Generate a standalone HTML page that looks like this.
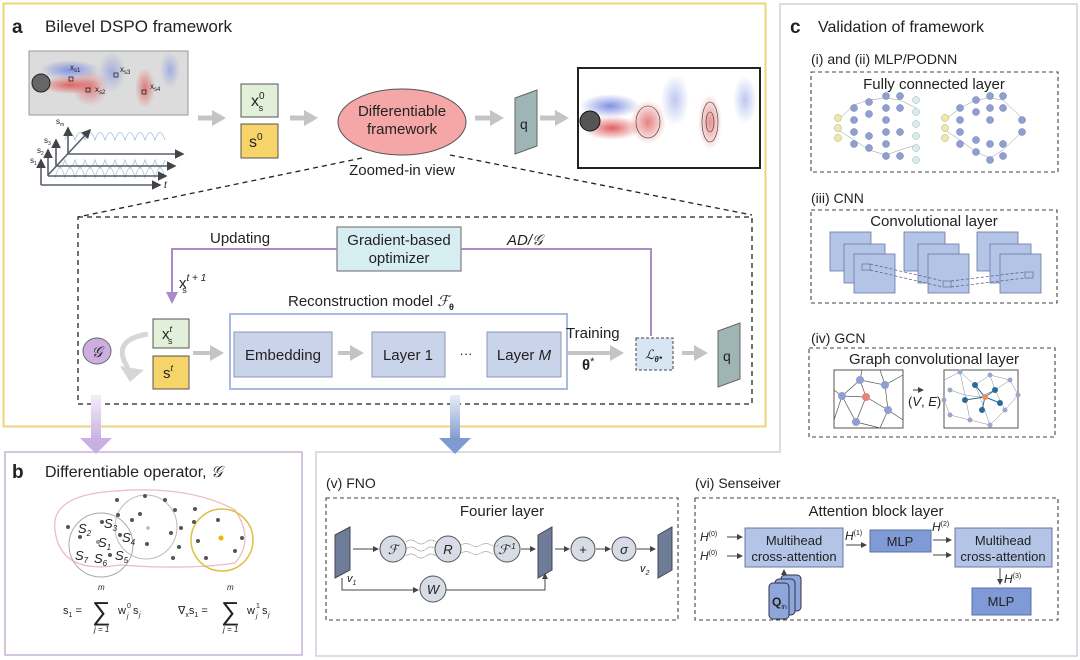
<!DOCTYPE html>
<html><head><meta charset="utf-8"><style>
html,body{margin:0;padding:0;background:#fff}
svg{display:block}
text{font-family:"Liberation Sans",sans-serif;fill:#222}
</style></head><body>
<svg width="1080" height="660" viewBox="0 0 1080 660" xmlns="http://www.w3.org/2000/svg">
<defs>
<marker id="ag" markerUnits="userSpaceOnUse" markerWidth="14" markerHeight="16" refX="10" refY="8" orient="auto"><path d="M0,0 L14,8 L0,16 z" fill="#c4c4c4"/></marker>
<marker id="ak" markerWidth="6" markerHeight="6" refX="5" refY="3" orient="auto"><path d="M0,0 L6,3 L0,6 z" fill="#444"/></marker>
<marker id="ap" markerWidth="6" markerHeight="6" refX="5" refY="3" orient="auto"><path d="M0,0 L6,3 L0,6 z" fill="#a88bc8"/></marker>
<linearGradient id="gp" x1="0" y1="0" x2="0" y2="1"><stop offset="0" stop-color="#f4eefa"/><stop offset="1" stop-color="#c8b0e0"/></linearGradient>
<linearGradient id="gb" x1="0" y1="0" x2="0" y2="1"><stop offset="0" stop-color="#e8eef8"/><stop offset="1" stop-color="#7f9ad0"/></linearGradient>
<radialGradient id="rb"><stop offset="0" stop-color="#8090e0"/><stop offset="1" stop-color="#8090e0" stop-opacity="0"/></radialGradient>
<radialGradient id="rr"><stop offset="0" stop-color="#e06060"/><stop offset="1" stop-color="#e06060" stop-opacity="0"/></radialGradient>
</defs>

<rect x="3.5" y="3.5" width="762" height="423" fill="none" stroke="#ecd57a" stroke-width="2"/>
<path d="M780,4 H1077 V656 H316 V452 H780 Z" fill="none" stroke="#c8d4e0" stroke-width="1.5"/>
<rect x="5" y="452" width="297" height="203" fill="none" stroke="#c4b4d8" stroke-width="1.5"/>

<text x="12" y="33" font-size="19" font-weight="bold">a</text>
<text x="45" y="32" font-size="17">Bilevel DSPO framework</text>

<rect x="29" y="51" width="159" height="64" fill="#dcdcdc" stroke="#999"/>
<ellipse cx="70" cy="70" rx="30" ry="10" fill="url(#rb)"/>
<ellipse cx="70" cy="85" rx="30" ry="9" fill="url(#rr)"/>
<ellipse cx="90" cy="88" rx="18" ry="18" fill="url(#rr)" opacity=".7"/>
<ellipse cx="112" cy="72" rx="14" ry="20" fill="url(#rb)" opacity=".6"/>
<ellipse cx="145" cy="88" rx="10" ry="20" fill="url(#rr)" opacity=".8"/>
<ellipse cx="170" cy="70" rx="10" ry="18" fill="url(#rb)" opacity=".6"/>
<circle cx="41" cy="83" r="9" fill="#666" stroke="#222"/>
<g font-size="8"><text x="70" y="70">x<tspan font-size="6" dy="2">s1</tspan></text><text x="95" y="92">x<tspan font-size="6" dy="2">s2</tspan></text><text x="120" y="72">x<tspan font-size="6" dy="2">s3</tspan></text><text x="150" y="89">x<tspan font-size="6" dy="2">s4</tspan></text></g>
<g fill="none" stroke="#222" stroke-width=".8"><rect x="69" y="77" width="4" height="4"/><rect x="86" y="88" width="4" height="4"/><rect x="114" y="73" width="4" height="4"/><rect x="142" y="90" width="4" height="4"/></g>
<g stroke="#a8c0d8" stroke-width=".8" fill="none">
<path d="M55,178 q5,-20 10,0 q5,-20 10,0 q5,-20 10,0 q5,-20 10,0 q5,-20 10,0 q5,-20 10,0 q5,-20 10,0 q5,-20 10,0 q5,-20 10,0 q5,-20 10,0 q5,-20 10,0"/>
<path d="M55,160 q5,15 10,0 q5,15 10,0 q5,15 10,0 q5,15 10,0 q5,15 10,0 q5,15 10,0 q5,15 10,0 q5,15 10,0 q5,15 10,0 q5,15 10,0 q5,15 10,0"/>
<path d="M65,140 q5,-15 10,0 q5,-15 10,0 q5,-15 10,0 q5,-15 10,0 q5,-15 10,0 q5,-15 10,0 q5,-15 10,0 q5,-15 10,0 q5,-15 10,0 q5,-15 10,0"/>
</g>
<g stroke="#556070" stroke-width="1.6" fill="none" marker-end="url(#ak)">
<path d="M41,185 V160"/><path d="M41,185 H160"/>
<path d="M48,176 V150"/><path d="M48,176 H166"/>
<path d="M56,166 V140"/><path d="M56,166 H175"/>
<path d="M68,154 V128"/><path d="M68,154 H183"/>
<path d="M48,175 L90,130"/>
</g>
<g font-size="8"><text x="30" y="163">s<tspan font-size="5" dy="2">1</tspan></text><text x="37" y="153">s<tspan font-size="5" dy="2">2</tspan></text><text x="44" y="143">s<tspan font-size="5" dy="2">3</tspan></text><text x="56" y="124">s<tspan font-size="5" dy="2">m</tspan></text><text x="164" y="188" font-style="italic" font-size="10">t</text></g>

<g stroke="#c4c4c4" stroke-width="5" fill="none" marker-end="url(#ag)">
<path d="M198,118 H222"/><path d="M290,118 H314"/><path d="M475,118 H500"/><path d="M540,118 H565"/>
</g>
<rect x="241" y="84" width="37" height="33" fill="#e2efd9" stroke="#555"/>
<text x="251" y="106" font-size="16">x<tspan font-size="10" dy="-7">0</tspan><tspan font-size="9" dx="-6" dy="12">s</tspan></text>
<rect x="241" y="124" width="37" height="34" fill="#f7d46a" stroke="#555"/>
<text x="249" y="147" font-size="16">s<tspan font-size="10" dy="-7">0</tspan></text>
<ellipse cx="402" cy="122" rx="64" ry="33" fill="#f5a7a7" stroke="#555"/>
<text x="402" y="116" font-size="15" text-anchor="middle">Differentiable</text>
<text x="402" y="134" font-size="15" text-anchor="middle">framework</text>
<text x="402" y="175" font-size="15" text-anchor="middle">Zoomed-in view</text>
<path d="M515,98 L537,90 L537,146 L515,154 Z" fill="#9fb5b5" stroke="#666"/>
<text x="520" y="129" font-size="14">q</text>
<rect x="578" y="68" width="182" height="100" fill="#fff" stroke="#222" stroke-width="2"/>
<ellipse cx="610" cy="106" rx="30" ry="12" fill="url(#rb)"/>
<ellipse cx="612" cy="128" rx="30" ry="12" fill="url(#rr)"/>
<ellipse cx="648" cy="122" rx="18" ry="22" fill="url(#rr)" opacity=".8"/>
<ellipse cx="675" cy="100" rx="14" ry="26" fill="url(#rb)" opacity=".5"/>
<ellipse cx="710" cy="122" rx="12" ry="28" fill="url(#rr)" opacity=".7"/>
<ellipse cx="745" cy="100" rx="12" ry="24" fill="url(#rb)" opacity=".5"/>
<g fill="none" stroke="#333" stroke-width=".6"><ellipse cx="648" cy="122" rx="12" ry="16"/><ellipse cx="710" cy="122" rx="8" ry="20"/><ellipse cx="710" cy="122" rx="4" ry="10"/></g>
<circle cx="590" cy="121" r="10" fill="#555" stroke="#111"/>

<g stroke="#222" stroke-width="1.3" stroke-dasharray="5,4" fill="none">
<path d="M362,158 L78,217"/><path d="M450,155 L752,215"/>
<rect x="78" y="217" width="674" height="187"/>
</g>
<rect x="337" y="227" width="124" height="44" fill="#d6eef2" stroke="#666"/>
<text x="399" y="245" font-size="15" text-anchor="middle">Gradient-based</text>
<text x="399" y="263" font-size="15" text-anchor="middle">optimizer</text>
<text x="210" y="243" font-size="15">Updating</text>
<text x="507" y="245" font-size="15" font-style="italic">AD/𝒢</text>
<g stroke="#a88bc8" stroke-width="2" fill="none">
<path d="M337,249 H172 V302" marker-end="url(#ap)"/><path d="M461,249 H651 V336"/>
</g>
<text x="179" y="288" font-size="15">x<tspan font-size="10" dy="-7" font-style="italic">t + 1</tspan><tspan font-size="9" dx="-24" dy="12">s</tspan></text>
<text x="288" y="306" font-size="15">Reconstruction model <tspan font-style="italic" font-family="Liberation Serif">ℱ</tspan><tspan font-size="9" font-weight="bold" dy="4">θ</tspan></text>
<rect x="230" y="314" width="337" height="75" fill="#fff" stroke="#a9bbe0" stroke-width="2"/>
<rect x="153" y="319" width="36" height="29" fill="#e2efd9" stroke="#555"/>
<text x="162" y="339" font-size="15">x<tspan font-size="9" dy="-7" font-style="italic">t</tspan><tspan font-size="9" dx="-4" dy="12">s</tspan></text>
<rect x="153" y="356" width="36" height="33" fill="#f7d46a" stroke="#555"/>
<text x="163" y="378" font-size="15">s<tspan font-size="9" dy="-7" font-style="italic">t</tspan></text>
<ellipse cx="97" cy="351" rx="14" ry="13" fill="#cdaee0" stroke="#666"/>
<text x="97" y="357" font-size="15" text-anchor="middle" font-style="italic">𝒢</text>
<path d="M148,334 Q110,340 128,368" stroke="#d6d6d6" stroke-width="5" fill="none"/>
<path d="M120,366 L144,370 L130,382 Z" fill="#d6d6d6"/>
<g stroke="#c4c4c4" stroke-width="4" fill="none" marker-end="url(#ag)">
<path d="M193,353 H220"/><path d="M338,353 H360"/><path d="M568,353 H620"/><path d="M682,353 H704"/>
</g>
<g fill="#c9d3ea" stroke="#8a98b8">
<rect x="234" y="332" width="98" height="45"/><rect x="372" y="332" width="73" height="45"/><rect x="487" y="332" width="74" height="45"/>
</g>
<text x="283" y="360" font-size="15" text-anchor="middle">Embedding</text>
<text x="408" y="360" font-size="15" text-anchor="middle">Layer 1</text>
<text x="466" y="358" font-size="13" text-anchor="middle">···</text>
<text x="524" y="360" font-size="15" text-anchor="middle">Layer <tspan font-style="italic">M</tspan></text>
<text x="566" y="338" font-size="15">Training</text>
<text x="582" y="370" font-size="15" font-weight="bold">θ<tspan font-weight="normal" dy="-5" font-size="11">*</tspan></text>
<rect x="636" y="338" width="37" height="32" fill="#d8e6f4" stroke="#444" stroke-dasharray="3,2"/>
<text x="645" y="359" font-size="13" font-style="italic" font-family="Liberation Serif">ℒ<tspan font-size="8" font-weight="bold" dy="3">θ*</tspan></text>
<path d="M718,331 L740,323 L740,379 L718,387 Z" fill="#9fb5b5" stroke="#666"/>
<text x="723" y="361" font-size="14">q</text>

<rect x="91" y="395" width="10" height="45" fill="url(#gp)"/>
<path d="M80,438 H112 L96,454 Z" fill="#c8b0e0"/>
<rect x="450" y="395" width="10" height="45" fill="url(#gb)"/>
<path d="M439,438 H471 L455,454 Z" fill="#7f9ad0"/>

<text x="12" y="478" font-size="19" font-weight="bold">b</text>
<text x="45" y="477" font-size="16">Differentiable operator, <tspan font-style="italic">𝒢</tspan></text>
<path d="M55,530 Q50,495 115,491 Q190,485 235,510 Q255,540 235,563 Q190,570 120,565 Q60,575 55,530 Z" fill="none" stroke="#eabdc8" stroke-width="1.3"/>
<circle cx="101" cy="545" r="32" fill="none" stroke="#aaa"/>
<ellipse cx="146" cy="527" rx="31" ry="32" fill="none" stroke="#bbb"/>
<circle cx="222" cy="540" r="31" fill="none" stroke="#e0c040" stroke-width="1.5"/>
<g fill="#555">
<circle cx="117" cy="500" r="2"/><circle cx="145" cy="496" r="2"/><circle cx="165" cy="500" r="2"/><circle cx="118" cy="515" r="2"/><circle cx="140" cy="514" r="2"/><circle cx="175" cy="510" r="2"/><circle cx="195" cy="509" r="2"/><circle cx="68" cy="527" r="2"/><circle cx="80" cy="537" r="2"/><circle cx="102" cy="522" r="2"/><circle cx="132" cy="520" r="2"/><circle cx="120" cy="535" r="2"/><circle cx="110" cy="555" r="2"/><circle cx="147" cy="544" r="2"/><circle cx="171" cy="533" r="2"/><circle cx="181" cy="528" r="2"/><circle cx="179" cy="547" r="2"/><circle cx="173" cy="558" r="2"/><circle cx="198" cy="541" r="2"/><circle cx="206" cy="558" r="2"/><circle cx="218" cy="520" r="2"/><circle cx="242" cy="538" r="2"/><circle cx="235" cy="551" r="2"/><circle cx="194" cy="522" r="2"/>
</g>
<circle cx="148" cy="528" r="2" fill="#c0c8b0"/><circle cx="221" cy="538" r="2.5" fill="#e8b800"/><circle cx="98" cy="542" r="2" fill="#999"/>
<g font-size="13" font-style="italic"><text x="78" y="533">S<tspan font-size="8" dy="3">2</tspan></text><text x="104" y="528">S<tspan font-size="8" dy="3">3</tspan></text><text x="122" y="542">S<tspan font-size="8" dy="3">4</tspan></text><text x="98" y="547">S<tspan font-size="8" dy="3">1</tspan></text><text x="75" y="560">S<tspan font-size="8" dy="3">7</tspan></text><text x="94" y="563">S<tspan font-size="8" dy="3">6</tspan></text><text x="115" y="560">S<tspan font-size="8" dy="3">5</tspan></text></g>
<g font-size="11">
<text x="63" y="614">s<tspan font-size="7" dy="3">1</tspan><tspan dy="-3"> =</tspan></text>
<text x="92" y="620" font-size="26">∑</text><text x="98" y="590" font-size="8" font-style="italic">m</text><text x="94" y="632" font-size="8" font-style="italic">j = 1</text>
<text x="118" y="614">w</text><text x="127" y="608" font-size="7">0</text><text x="127" y="618" font-size="7" font-style="italic">j</text><text x="133" y="614">s</text><text x="139" y="617" font-size="7" font-style="italic">j</text>
<text x="178" y="614">∇<tspan font-size="7" dy="3">x</tspan><tspan dy="-3">s</tspan><tspan font-size="7" dy="3">1</tspan><tspan dy="-3"> =</tspan></text>
<text x="221" y="620" font-size="26">∑</text><text x="227" y="590" font-size="8" font-style="italic">m</text><text x="223" y="632" font-size="8" font-style="italic">j = 1</text>
<text x="247" y="614">w</text><text x="256" y="608" font-size="7">1</text><text x="256" y="618" font-size="7" font-style="italic">j</text><text x="262" y="614">s</text><text x="268" y="617" font-size="7" font-style="italic">j</text>
</g>

<text x="790" y="33" font-size="19" font-weight="bold">c</text>
<text x="818" y="32" font-size="16">Validation of framework</text>
<text x="811" y="64" font-size="14">(i) and (ii)  MLP/PODNN</text>
<text x="811" y="203" font-size="14">(iii)  CNN</text>
<text x="811" y="343" font-size="14">(iv)  GCN</text>
<g fill="none" stroke="#444" stroke-dasharray="4,3" stroke-width="1.1">
<rect x="811" y="72" width="247" height="100"/><rect x="811" y="210" width="246" height="93"/><rect x="809" y="348" width="246" height="89"/>
<rect x="326" y="498" width="352" height="122"/><rect x="695" y="498" width="363" height="122"/>
</g>
<text x="934" y="89" font-size="15" text-anchor="middle">Fully connected layer</text>
<text x="934" y="226" font-size="15" text-anchor="middle">Convolutional layer</text>
<text x="934" y="364" font-size="15" text-anchor="middle">Graph convolutional layer</text>
<g stroke="#777" stroke-width=".4">
<path d="M838,120 L854,105 M838,130 L854,140 M854,105 L869,100 M854,140 L869,150 M869,100 L886,98 M869,150 L886,155 M886,98 L900,100 M886,155 L900,150 M900,100 L916,108 M900,150 L916,145"/>
<path d="M945,120 L960,108 M945,130 L960,140 M960,108 L976,100 M960,140 L976,152 M976,100 L990,98 M976,152 L990,158 M990,98 L1003,100 M990,158 L1003,150 M1003,100 L1022,118 M1003,150 L1022,132"/>
</g>
<g fill="#8f9fd2" stroke="#6878a8" stroke-width=".5">
<circle cx="854" cy="108" r="3.5"/><circle cx="854" cy="120" r="3.5"/><circle cx="854" cy="132" r="3.5"/><circle cx="854" cy="144" r="3.5"/>
<circle cx="869" cy="102" r="3.5"/><circle cx="869" cy="114" r="3.5"/><circle cx="869" cy="136" r="3.5"/><circle cx="869" cy="148" r="3.5"/>
<circle cx="886" cy="96" r="3.5"/><circle cx="886" cy="108" r="3.5"/><circle cx="886" cy="120" r="3.5"/><circle cx="886" cy="132" r="3.5"/><circle cx="886" cy="144" r="3.5"/><circle cx="886" cy="156" r="3.5"/>
<circle cx="900" cy="96" r="3.5"/><circle cx="900" cy="108" r="3.5"/><circle cx="900" cy="132" r="3.5"/><circle cx="900" cy="156" r="3.5"/>
<circle cx="960" cy="108" r="3.5"/><circle cx="960" cy="120" r="3.5"/><circle cx="960" cy="132" r="3.5"/><circle cx="960" cy="144" r="3.5"/>
<circle cx="976" cy="100" r="3.5"/><circle cx="976" cy="112" r="3.5"/><circle cx="976" cy="140" r="3.5"/><circle cx="976" cy="152" r="3.5"/>
<circle cx="990" cy="96" r="3.5"/><circle cx="990" cy="108" r="3.5"/><circle cx="990" cy="120" r="3.5"/><circle cx="990" cy="144" r="3.5"/><circle cx="990" cy="160" r="3.5"/>
<circle cx="1003" cy="96" r="3.5"/><circle cx="1003" cy="108" r="3.5"/><circle cx="1003" cy="144" r="3.5"/><circle cx="1003" cy="156" r="3.5"/>
<circle cx="1022" cy="120" r="3.5"/><circle cx="1022" cy="132" r="3.5"/>
</g>
<g fill="#f0eaa8" stroke="#a8a070" stroke-width=".5"><circle cx="838" cy="118" r="3.5"/><circle cx="838" cy="128" r="3.5"/><circle cx="838" cy="138" r="3.5"/><circle cx="945" cy="118" r="3.5"/><circle cx="945" cy="128" r="3.5"/><circle cx="945" cy="138" r="3.5"/></g>
<g fill="#d8ecec" stroke="#98b0b0" stroke-width=".5"><circle cx="916" cy="100" r="3.5"/><circle cx="916" cy="112" r="3.5"/><circle cx="916" cy="124" r="3.5"/><circle cx="916" cy="136" r="3.5"/><circle cx="916" cy="148" r="3.5"/><circle cx="916" cy="160" r="3.5"/></g>
<g fill="#b4c4e6" stroke="#6878a0" stroke-width=".8">
<rect x="830" y="232" width="41" height="39"/><rect x="844" y="244" width="41" height="39"/><rect x="854" y="254" width="41" height="39"/>
<rect x="904" y="232" width="41" height="39"/><rect x="918" y="244" width="41" height="39"/><rect x="928" y="254" width="41" height="39"/>
<rect x="977" y="232" width="41" height="39"/><rect x="990" y="244" width="41" height="39"/><rect x="1000" y="254" width="41" height="39"/>
<rect x="862" y="264" width="8" height="6"/><rect x="943" y="281" width="8" height="6"/><rect x="1025" y="272" width="8" height="6"/>
</g>
<g stroke="#4a5a80" stroke-dasharray="3,2" fill="none" stroke-width=".7"><path d="M870,264 L943,281 M870,270 L943,287 M951,281 L1025,272 M951,287 L1025,278"/></g>
<rect x="834" y="370" width="69" height="58" fill="#fff" stroke="#555"/>
<g stroke="#555" stroke-width=".7" fill="none"><path d="M834,390 L842,396 L860,380 L862,370 M860,380 L866,397 L842,396 L856,422 L866,397 L888,410 L885,385 L860,380 M885,385 L903,375 M888,410 L903,420 M856,422 L880,428 M888,410 L880,428 M842,396 L834,420 M885,385 L880,370"/></g>
<g fill="#8f9fd2"><circle cx="842" cy="396" r="4"/><circle cx="860" cy="380" r="4"/><circle cx="885" cy="385" r="4"/><circle cx="888" cy="410" r="4"/><circle cx="856" cy="422" r="4"/></g><circle cx="866" cy="397" r="4" fill="#e88080"/>
<text x="908" y="406" font-size="13">(<tspan font-style="italic">V</tspan>, <tspan font-style="italic">E</tspan>)</text><path d="M913,390 h10" stroke="#333" marker-end="url(#ak)"/>
<rect x="944" y="370" width="74" height="58" fill="#fff" stroke="#555"/>
<g stroke="#888" stroke-width=".5" fill="none"><path d="M944,380 L960,372 L975,385 L990,375 L1010,380 L1018,395 L1005,410 L990,425 L970,420 L950,415 L944,400 M960,372 L965,395 L980,397 L995,390 L1005,410 M965,395 L970,420 M980,397 L990,425 M975,385 L980,397 L995,390 L990,375 M950,390 L965,395 M1010,380 L995,390"/></g>
<g fill="#9aa8d0"><circle cx="960" cy="372" r="2.5"/><circle cx="990" cy="375" r="2.5"/><circle cx="1010" cy="380" r="2.5"/><circle cx="1018" cy="395" r="2.5"/><circle cx="1005" cy="410" r="2.5"/><circle cx="990" cy="425" r="2.5"/><circle cx="970" cy="420" r="2.5"/><circle cx="950" cy="415" r="2.5"/><circle cx="950" cy="390" r="2.5"/><circle cx="944" cy="400" r="2.5"/></g>
<g fill="#2a6a9a" stroke="#2a6a9a"><circle cx="975" cy="385" r="2.5"/><circle cx="995" cy="390" r="2.5"/><circle cx="965" cy="400" r="2.5"/><circle cx="982" cy="410" r="2.5"/><circle cx="1000" cy="403" r="2.5"/><path d="M975,385 L985,397 M995,390 L985,397 M965,400 L985,397 M982,410 L985,397 M1000,403 L985,397" stroke-width="1"/></g>
<circle cx="985" cy="397" r="3" fill="#e89060"/>

<text x="326" y="488" font-size="14">(v)  FNO</text>
<text x="502" y="516" font-size="15" text-anchor="middle">Fourier layer</text>
<g fill="#6e7c98" stroke="#445"><path d="M335,535 L350,527 L350,570 L335,578 Z"/><path d="M538,535 L552,527 L552,570 L538,578 Z"/><path d="M658,535 L672,527 L672,570 L658,578 Z"/></g>
<g fill="#d8dce6" stroke="#555"><circle cx="393" cy="549" r="13"/><circle cx="448" cy="549" r="13"/><circle cx="507" cy="549" r="13"/><circle cx="583" cy="549" r="12"/><circle cx="624" cy="549" r="12"/><circle cx="433" cy="589" r="13"/></g>
<g stroke="#aaa" stroke-width=".7" fill="none"><path d="M406,542 q5,-4 10,0 q5,4 10,0 q5,-4 10,0 M406,549 q5,-4 10,0 q5,4 10,0 q5,-4 10,0 M406,556 q5,-4 10,0 q5,4 10,0 q5,-4 10,0 M461,545 q5,-3 10,0 q5,3 10,0 q5,-3 10,0 q5,3 8,0 M461,553 q5,-3 10,0 q5,3 10,0 q5,-3 10,0 q5,3 8,0"/></g>
<g font-size="13" text-anchor="middle" font-style="italic"><text x="393" y="554" font-family="Liberation Serif">ℱ</text><text x="448" y="554">R</text><text x="507" y="554" font-family="Liberation Serif">ℱ<tspan font-size="8" dy="-5">-1</tspan></text><text x="583" y="554" font-style="normal">+</text><text x="624" y="554">σ</text><text x="433" y="594">W</text></g>
<g stroke="#444" stroke-width="1" fill="none" marker-end="url(#ak)"><path d="M353,549 H378"/><path d="M521,549 H535"/><path d="M555,549 H569"/><path d="M596,549 H610"/><path d="M637,549 H655"/><path d="M342,578 V590 H418"/><path d="M446,590 H545 V574"/></g>
<text x="347" y="582" font-size="11" font-style="italic">v<tspan font-size="7" dy="3">1</tspan></text>
<text x="640" y="572" font-size="11" font-style="italic">v<tspan font-size="7" dy="3">2</tspan></text>

<text x="695" y="488" font-size="14">(vi)  Senseiver</text>
<text x="876" y="516" font-size="15" text-anchor="middle">Attention block layer</text>
<g font-size="12" font-style="italic"><text x="700" y="541">H<tspan font-size="7" dy="-5" font-style="normal">(0)</tspan></text><text x="700" y="560">H<tspan font-size="7" dy="-5" font-style="normal">(0)</tspan></text><text x="845" y="540">H<tspan font-size="7" dy="-5" font-style="normal">(1)</tspan></text><text x="932" y="531">H<tspan font-size="7" dy="-5" font-style="normal">(2)</tspan></text><text x="1004" y="583">H<tspan font-size="7" dy="-5" font-style="normal">(3)</tspan></text></g>
<g stroke="#444" stroke-width="1" fill="none" marker-end="url(#ak)"><path d="M727,537 H742"/><path d="M727,556 H742"/><path d="M846,545 H866"/><path d="M933,540 H951"/><path d="M933,555 H951"/><path d="M1000,568 V584"/><path d="M784,573 V570"/></g>
<g fill="#b4c4e6" stroke="#6878a0"><rect x="745" y="528" width="98" height="39"/><rect x="955" y="528" width="97" height="39"/></g>
<g fill="#7f9ad4" stroke="#5a70a8"><rect x="870" y="530" width="61" height="22"/><rect x="972" y="588" width="59" height="27"/></g>
<g font-size="13" text-anchor="middle"><text x="794" y="545">Multihead</text><text x="794" y="561">cross-attention</text><text x="1003" y="545">Multihead</text><text x="1003" y="561">cross-attention</text><text x="900" y="546">MLP</text><text x="1001" y="606">MLP</text></g>
<g fill="#8fa6dc" stroke="#334"><rect x="781" y="575" width="20" height="36" rx="4"/><rect x="775" y="579" width="20" height="36" rx="4"/><rect x="769" y="583" width="20" height="36" rx="4"/></g>
<text x="772" y="606" font-size="12" font-weight="bold">Q<tspan font-size="7" dy="3" font-weight="normal">in</tspan></text>
</svg>
</body></html>
